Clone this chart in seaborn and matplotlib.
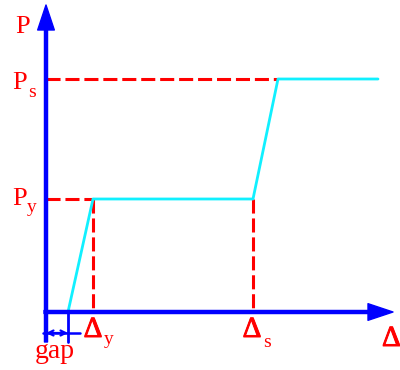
import matplotlib
matplotlib.use('Agg')
import pandas as pd
import seaborn as sns
import matplotlib.pyplot as plt
import matplotlib.patheffects as pe

# valores do diagrama (unidades arbitrarias)
gap = 22
delta_y = 47
delta_s = 207
p_y = 113
p_s = 233
x_fim = 332

curva_x = [gap, delta_y, delta_s, delta_s + (delta_y - gap), x_fim]
curva_p = [0, p_y, p_y, p_s, p_s]

sns.set_style('white')
plt.rcParams['font.family'] = ['Liberation Serif', 'DejaVu Serif']

fig = plt.figure(figsize=(4, 3.7), dpi=100)
ax = fig.add_axes([0, 0, 1, 1])

vermelho = '#ff0000'
azul = '#0000ff'
tracejado = dict(color=vermelho, lw=2.2, dashes=(4.6, 1.6))

# linhas tracejadas de referencia
ax.plot([0, delta_y], [p_y, p_y], **tracejado)
ax.plot([delta_y, delta_y], [p_y, 0], **tracejado)
ax.plot([0, curva_x[3]], [p_s, p_s], **tracejado)
ax.plot([delta_s, delta_s], [p_y, 0], **tracejado)

# curva forca x deslocamento
df = pd.DataFrame({'x': curva_x, 'P': curva_p})
sns.lineplot(data=df, x='x', y='P', sort=False, color='#11f0ff', lw=2.0, ax=ax)
ax.set_xlim(-46, 354)
ax.set_ylim(-58, 312)
ax.axis('off')

# eixos com setas
seta = dict(width=2.2, headwidth=12, headlength=18, color=azul, shrink=0)
ax.annotate('', xy=(0, 307), xytext=(0, -30), arrowprops=seta)
ax.annotate('', xy=(347, 0), xytext=(-2, 0), arrowprops=seta)

# cota do gap
ax.plot([gap, gap], [0, -30], color=azul, lw=2.0)
ax.plot([-3, gap + 12], [-21, -21], color=azul, lw=1.8)
ax.annotate('', xy=(0, -21), xytext=(gap, -21),
            arrowprops=dict(arrowstyle='<->', color=azul, lw=1.6, mutation_scale=9,
                            shrinkA=0, shrinkB=0))

# textos
fs = 19
fsub = 14
fd = 21
grosso = [pe.withStroke(linewidth=0.7, foreground=vermelho)]
ax.text(-23, 279, 'P', color=vermelho, fontsize=fs, ha='center', va='baseline')
ax.text(-26, p_s - 10, 'P', color=vermelho, fontsize=fs, ha='center', va='baseline')
ax.text(-18, p_s - 18, 's', color=vermelho, fontsize=fsub, ha='left', va='baseline')
ax.text(-26, p_y - 6, 'P', color=vermelho, fontsize=fs, ha='center', va='baseline')
ax.text(-19, p_y - 13, 'y', color=vermelho, fontsize=fsub, ha='left', va='baseline')
ax.text(delta_y, -25, 'Δ', color=vermelho, fontsize=fd, path_effects=grosso,
        ha='center', va='baseline')
ax.text(delta_y + 11, -32, 'y', color=vermelho, fontsize=fsub, ha='left', va='baseline')
ax.text(delta_s - 1, -25, 'Δ', color=vermelho, fontsize=fd, path_effects=grosso,
        ha='center', va='baseline')
ax.text(delta_s + 10, -35, 's', color=vermelho, fontsize=fsub, ha='left', va='baseline')
ax.text(336, -34, 'Δ', color=vermelho, fontsize=fd, path_effects=grosso,
        ha='left', va='baseline')
ax.text(9, -46, 'gap', color=vermelho, fontsize=20, ha='center', va='baseline')

fig.savefig('out.png', dpi=100)
